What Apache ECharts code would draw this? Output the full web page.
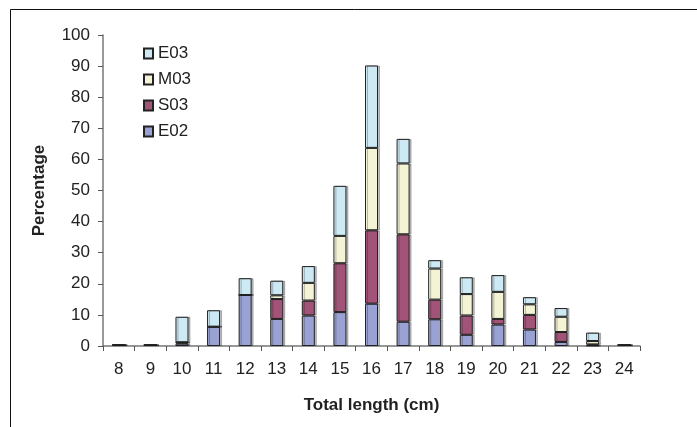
<!DOCTYPE html>
<html>
<head>
<meta charset="utf-8">
<script src="https://cdn.jsdelivr.net/npm/echarts@6/dist/echarts.min.js"></script>
<style>
  html, body { margin: 0; padding: 0; background: #fff; }
  #main { width: 697px; height: 427px; }
</style>
</head>
<body>
<div id="main"></div>
<script>
// length classes (cm)
var lengths = ['8', '9', '10', '11', '12', '13', '14', '15', '16', '17', '18', '19', '20', '21', '22', '23', '24'];

// percentages per sample, stacked bottom to top
var e02 = [0.3, 0.3, 0.8, 6.2, 16.4, 8.7, 9.8, 10.9, 13.6, 7.8, 8.6, 3.6, 6.9, 5.3, 1.3, 0.2, 0.3];
var s03 = [0, 0, 0.3, 0, 0, 6.4, 4.8, 15.7, 23.6, 28.1, 6.3, 6.2, 1.8, 4.7, 3.2, 0.3, 0];
var m03 = [0, 0, 0.1, 0, 0, 1.2, 5.7, 8.8, 26.5, 22.8, 10.0, 6.9, 8.7, 3.4, 4.9, 1.1, 0];
var e03 = [0, 0, 8.2, 5.3, 5.4, 4.7, 5.4, 16.1, 26.5, 7.9, 2.7, 5.4, 5.4, 2.3, 2.8, 2.7, 0];

var chart = echarts.init(document.getElementById('main'));

function bar(name, data, color) {
  return {
    name: name,
    type: 'bar',
    stack: 'total',
    data: data,
    barWidth: 13,
    itemStyle: {
      color: color,
      borderColor: '#222',
      borderWidth: 1,
      shadowColor: 'rgba(0,0,0,0.25)',
      shadowOffsetX: 2,
      shadowOffsetY: 0
    }
  };
}

var option = {
  animation: false,
  textStyle: { fontFamily: 'Liberation Sans, Arial, sans-serif' },
  graphic: [{
    type: 'rect',
    shape: { x: 10.5, y: 9.5, width: 720, height: 440 },
    style: { fill: 'none', stroke: '#111', lineWidth: 1 }
  }],
  legend: {
    data: ['E03', 'M03', 'S03', 'E02'],
    orient: 'vertical',
    left: 138,
    top: 40,
    itemWidth: 9,
    itemHeight: 10,
    itemGap: 9,
    icon: 'rect',
    textStyle: { fontSize: 17, color: '#222' }
  },
  grid: { left: 103, right: 57, top: 35, bottom: 81 },
  xAxis: {
    type: 'category',
    data: lengths,
    name: 'Total length (cm)',
    nameLocation: 'middle',
    nameGap: 51,
    nameTextStyle: { fontSize: 17, fontWeight: 'bold', color: '#222' },
    axisLine: { lineStyle: { color: '#777', width: 1.5 } },
    axisTick: { show: true, length: 5, lineStyle: { color: '#555' } },
    axisLabel: { fontSize: 17, color: '#222', margin: 15 }
  },
  yAxis: {
    type: 'value',
    min: 0,
    max: 100,
    interval: 10,
    name: 'Percentage',
    nameLocation: 'middle',
    nameGap: 55,
    nameRotate: 90,
    nameTextStyle: { fontSize: 17, fontWeight: 'bold', color: '#222' },
    axisLine: { show: true, lineStyle: { color: '#777', width: 1.5 } },
    axisTick: { show: true, length: 5, lineStyle: { color: '#555' } },
    axisLabel: { fontSize: 17, color: '#222', margin: 13 },
    splitLine: { show: false }
  },
  series: [
    bar('E02', e02, '#99a2d3'),
    bar('S03', s03, '#a15378'),
    bar('M03', m03, '#f4f3d6'),
    bar('E03', e03, '#cde9f4')
  ]
};

chart.setOption(option);
</script>
</body>
</html>
